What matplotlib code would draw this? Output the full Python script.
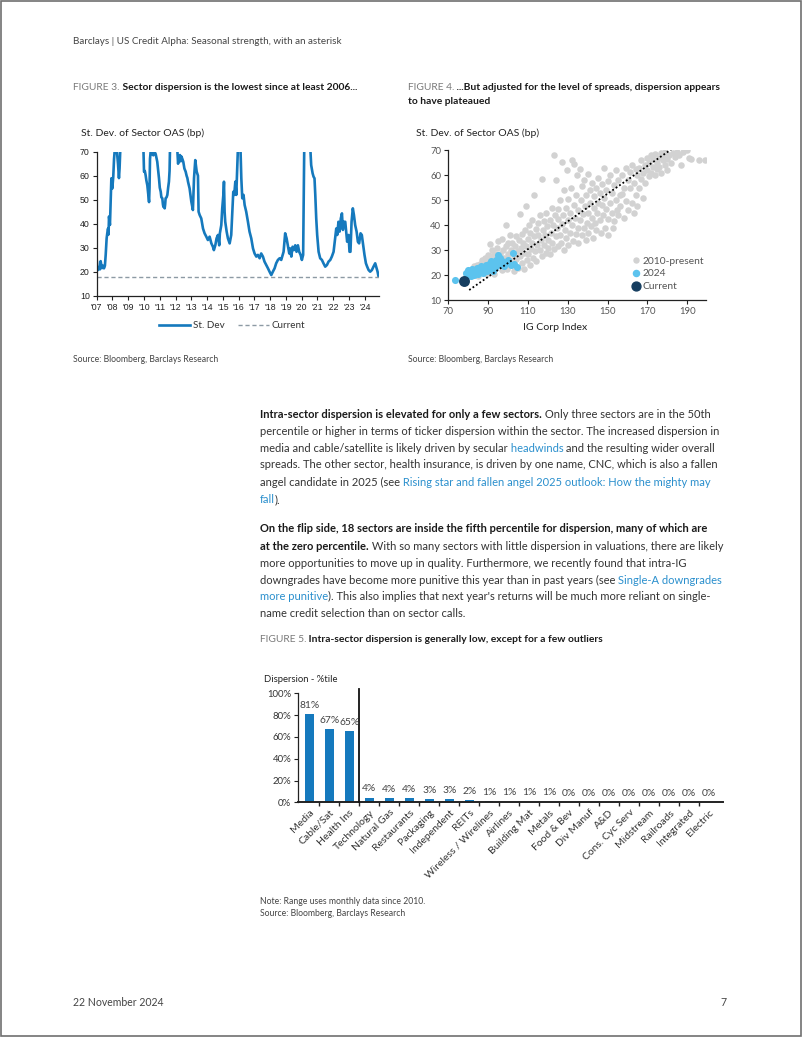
import numpy as np
import matplotlib
matplotlib.use('Agg')
import matplotlib.pyplot as plt
from matplotlib.font_manager import FontProperties
from matplotlib.textpath import TextPath
from matplotlib.lines import Line2D
from matplotlib.patches import Rectangle

W, H = 802, 1037
FONT = 'Lato'
BLUE = '#1579bd'
TXT = '#333333'
DARK = '#1a1a1a'
LINK = '#2a8fcd'
GREY = '#7a7a7a'

# ---- Figure 3: st. dev. of sector OAS (bp) ----
dev_year = [2007.00, 2007.04, 2007.08, 2007.13, 2007.17, 2007.21, 2007.25, 2007.30, 2007.34, 2007.40, 2007.46,
            2007.52, 2007.57, 2007.63, 2007.67, 2007.72, 2007.75, 2007.78, 2007.84, 2007.89, 2007.93, 2007.99,
            2008.05, 2008.10, 2008.16, 2008.22, 2008.27, 2008.31, 2008.35, 2008.41, 2008.45, 2008.48, 2008.52,
            2008.60, 2008.75, 2008.90, 2009.00, 2009.20, 2009.40, 2009.60, 2009.80, 2009.96,
            2010.00, 2010.05, 2010.10, 2010.15, 2010.21, 2010.27, 2010.32, 2010.35, 2010.38, 2010.42, 2010.46,
            2010.52, 2010.59, 2010.65, 2010.70, 2010.74, 2010.79, 2010.84, 2010.90, 2010.95,
            2011.00, 2011.06, 2011.10, 2011.16, 2011.20, 2011.23, 2011.27, 2011.31, 2011.34, 2011.37, 2011.43,
            2011.48, 2011.53, 2011.58, 2011.62, 2011.65, 2011.75, 2011.90,
            2012.00, 2012.11, 2012.16, 2012.22, 2012.28, 2012.33, 2012.37, 2012.43, 2012.49, 2012.56, 2012.64,
            2012.70, 2012.75, 2012.79, 2012.89,
            2013.00, 2013.10, 2013.17, 2013.25, 2013.34, 2013.42, 2013.46, 2013.53, 2013.63, 2013.74, 2013.84, 2013.95,
            2014.05, 2014.16, 2014.27, 2014.37, 2014.43, 2014.52, 2014.60, 2014.69, 2014.77, 2014.81, 2014.90, 2014.96,
            2015.03, 2015.07, 2015.11, 2015.15, 2015.24, 2015.32, 2015.43, 2015.53, 2015.60, 2015.66, 2015.72,
            2015.79, 2015.85, 2015.91, 2015.95,
            2016.00, 2016.07, 2016.12, 2016.17, 2016.23, 2016.31, 2016.38, 2016.48, 2016.59, 2016.69, 2016.80, 2016.91,
            2017.01, 2017.12, 2017.22, 2017.33, 2017.43, 2017.54, 2017.64, 2017.75, 2017.86, 2017.96,
            2018.07, 2018.17, 2018.28, 2018.38, 2018.49, 2018.60, 2018.70, 2018.85, 2018.95,
            2019.04, 2019.12, 2019.21, 2019.27, 2019.34, 2019.42, 2019.50, 2019.59, 2019.67, 2019.76, 2019.84, 2019.93,
            2020.01, 2020.09, 2020.16, 2020.25, 2020.40, 2020.54, 2020.60, 2020.69, 2020.75, 2020.81, 2020.86,
            2020.92, 2020.98,
            2021.07, 2021.17, 2021.28, 2021.38, 2021.49, 2021.60, 2021.70, 2021.81, 2021.91,
            2022.02, 2022.12, 2022.19, 2022.25, 2022.33, 2022.40, 2022.48, 2022.55, 2022.61, 2022.67, 2022.76,
            2022.82, 2022.88, 2022.97,
            2023.03, 2023.09, 2023.16, 2023.24, 2023.31, 2023.39, 2023.48, 2023.56, 2023.64, 2023.73, 2023.81,
            2023.90, 2023.98,
            2024.07, 2024.15, 2024.24, 2024.34, 2024.45, 2024.55, 2024.66, 2024.72, 2024.81, 2024.87]
dev_value = [25.0, 22.5, 20.7, 21.5, 22.0, 21.0, 24.4, 22.5, 21.5, 22.5, 21.4,
             22.5, 27.0, 33.9, 36.0, 38.0, 35.5, 43.0, 39.5, 50.6, 58.9, 54.7,
             59.6, 67.0, 72, 74, 71, 68, 65, 59, 63, 68, 75,
             90, 130, 180, 170, 150, 120, 95, 80, 72,
             61.7, 62, 60.3, 58, 56, 52, 49, 55, 67, 70, 72,
             69, 68.5, 71, 69.5, 69, 67.5, 65.8, 62, 58.9,
             55, 53.3, 51, 50.6, 48, 47, 48.5, 46.4, 48, 50.6, 51,
             52, 55, 57.5, 62, 72, 80, 78,
             74, 71, 65, 67, 68.6, 66, 68, 67, 65.8, 63, 61.7,
             60, 59, 57.5, 54.7,
             49.2, 45.7, 58.9, 66.5, 61.7, 60, 45, 43.6, 42.2, 38, 36, 34.6,
             33.2, 34.6, 31.8, 30.4, 29, 31, 33.9, 35.3, 31, 36, 39.4, 46.4,
             52, 57.5, 45, 40.8, 36.7, 33.9, 31.8, 35.3, 45, 53.3, 52,
             57.5, 52, 63, 70.5,
             78, 76, 70.5, 58.9, 50.6, 52, 47.8, 45, 40.8, 36.7, 33.9, 29.7,
             27.6, 26.3, 27, 25.6, 27.6, 26.3, 24.2, 22.8, 21.4, 20,
             18.6, 20, 21.4, 23.5, 24.9, 25.6, 24.9, 28.3, 36,
             33.9, 31, 27.6, 29.7, 26.3, 30.4, 29, 31, 28.3, 31, 28.3, 27,
             24.9, 27, 72, 150, 100, 72, 64.4, 61, 59.6, 58.9, 52,
             42.2, 35.3,
             28.3, 25.6, 24.9, 23.5, 22.1, 22.8, 24.2, 24.9, 26.3,
             28.3, 33.9, 38, 35.3, 40.8, 36.7, 42.2, 44.3, 37.4, 40.8, 40.8,
             36.7, 32.5, 35.3,
             28.3, 28.3, 40.8, 46.4, 43.6, 39.4, 36.7, 32.5, 31.8, 36, 35.3,
             31, 27,
             23.5, 22.1, 20.7, 20, 20.7, 22.1, 23.5, 22.1, 20, 18]
current_dev = 18
year_ticks = list(range(2007, 2025))

# ---- Figure 4: dispersion vs IG Corp Index ----
hist_x = [79, 80, 81, 82, 82.5, 83, 84, 84.5, 85, 85,
          86, 86.5, 87, 87.5, 88, 88.5, 89, 89.5, 90, 90,
          91, 91.5, 92, 92, 93, 93.5, 94, 94.5, 95, 95, 91, 93,
          96, 96.5, 97, 97, 97.5, 98, 98.5, 99, 99, 99.5, 100, 100,
          101, 101, 101.5, 102, 102, 103, 103, 103.5, 104, 104, 105, 105, 105.5,
          106, 106, 106.5, 107, 107, 107.5, 108, 108, 108.5, 109, 109, 109.5, 110, 110, 110.5,
          111, 111, 111.5, 112, 112, 112.5, 113, 113, 113.5, 114, 114, 114.5, 115, 115,
          116, 116, 116.5, 117, 117, 117.5, 118, 118, 118.5, 119, 119, 119.5, 120, 120,
          121, 121, 121.5, 122, 122, 122.5, 123, 123, 123.5, 124, 124, 124.5, 125, 125, 125,
          126, 126, 126.5, 127, 127, 127.5, 128, 128, 128.5, 129, 129, 129.5, 130, 130, 130,
          131, 131, 131.5, 132, 132, 132.5, 133, 133, 133.5, 134, 134, 134.5, 135, 135, 135,
          136, 136, 136.5, 137, 137, 137.5, 138, 138, 138.5, 139, 139, 139.5, 140, 140, 140,
          141, 141, 141.5, 142, 142, 142.5, 143, 143, 143.5, 144, 144, 144.5, 145, 145,
          146, 146, 146.5, 147, 147, 147.5, 148, 148, 148.5, 149, 149, 150, 150, 150,
          151, 151, 152, 152, 152.5, 153, 153, 154, 154, 154.5, 155, 155,
          156, 156, 157, 157, 158, 158, 159, 159, 160, 160,
          161, 161, 162, 162, 163, 163, 164, 164, 165, 165,
          166, 166, 167, 167, 168, 168, 169, 169, 170, 170,
          171, 171, 172, 172, 173, 173, 174, 174, 175, 175,
          176, 176, 177, 177, 178, 178, 179, 179, 180, 180,
          181, 182, 183, 184, 185, 186, 187, 188, 190, 191, 192, 196, 199]
hist_y = [20.5, 21.5, 19.8, 22.5, 20.5, 23.5, 21, 24, 22.5, 19.5,
          24.5, 21.5, 26, 23, 22, 27, 24.5, 20.5, 25.5, 28,
          23, 27.5, 30, 21.5, 25, 28.5, 23.5, 31, 26.5, 33.5, 32.5, 20.5,
          28.5, 24.5, 34.5, 22, 30, 27, 25, 40, 31.5, 22.5, 28.5, 33,
          26, 36, 30, 24, 33, 28, 21.5, 31.5, 35.5, 26.5, 29.5, 23, 34,
          44.5, 27.5, 31, 25, 36.5, 33, 29, 22.5, 38, 47.5, 31.5, 26, 34.5, 28.5, 40,
          24, 37, 30.5, 33, 42, 27, 52, 35.5, 29.5, 38.5, 25.5, 32, 41, 36,
          30, 44, 34, 58.5, 27.5, 38, 32, 41.5, 36, 29, 45, 39.5, 34, 31,
          42, 28.5, 37, 47, 33, 40, 30.5, 68, 44, 35.5, 58, 39, 31.5, 46.5, 42.5,
          36, 50, 33, 65.5, 40.5, 44, 30, 54, 38, 47, 35, 62, 42, 32, 50.5,
          37, 45, 55, 66, 40, 33.5, 48, 64.5, 43, 36.5, 52, 60, 39, 46, 33,
          62.5, 42, 50, 36, 55.5, 44.5, 39, 58, 47.5, 34, 52, 41, 60.5, 45, 37,
          49, 54, 39.5, 43, 57, 35, 47, 51.5, 41, 55, 38, 45, 59, 49,
          42, 53, 37, 48, 56.5, 44, 63, 51, 39, 46.5, 54, 42.5, 57.5, 36,
          49, 60, 45, 53, 39, 56, 41.5, 50, 62, 46, 44, 58,
          52, 47.5, 52.5, 60, 55, 43, 49.5, 63, 58, 46,
          55, 61.5, 49, 64, 57, 45, 52, 62.5, 60, 47.5,
          63, 55, 58.5, 66, 61, 51, 64, 57, 62, 67,
          59.5, 65, 68, 61, 63.5, 66.5, 60, 68.5, 65, 62.5,
          67, 63.5, 69, 61, 66, 68, 64, 69.5, 66.5, 62,
          68, 65, 69, 67.5, 69.5, 68, 64, 69.5, 70, 67, 66.5, 66, 66]
y24_x = [73.5, 79, 79.5, 80, 80.5, 81, 81.5, 82, 82.5, 83, 83.5, 84, 84.5, 85, 85.5, 86, 86.5, 87, 87.5,
         88, 88.5, 89, 89.5, 90, 90.5, 91, 91.5, 92, 92.5, 93, 93.5, 94, 94.5, 95, 95.5, 96, 96.5, 97,
         98, 99, 100, 101.5, 102.6, 104.3, 103]
y24_y = [18.0, 21, 20, 22, 20.8, 21.5, 19.8, 22.5, 21, 20.2, 22, 21.2, 23, 20.5, 22.2, 21.4, 23.5, 22, 20.8,
         23, 22, 24, 21.8, 23.2, 24.6, 22.5, 25.8, 23.6, 21.5, 24.8, 23, 26, 24, 28, 25, 26.8, 24.2, 25.5,
         23.5, 25, 26, 24, 28.7, 23.4, 24.5]
now_x = [78]
now_y = [17.8]
trend_x = [80.5, 182]
trend_y = [14, 70.4]

# ---- Figure 5: intra-sector dispersion percentile ----
sectors = ['Media', 'Cable/Sat', 'Health Ins', 'Technology', 'Natural Gas', 'Restaurants', 'Packaging',
           'Independent', 'REITs', 'Wireless / Wirelines', 'Airlines', 'Building Mat', 'Metals', 'Food & Bev',
           'Div Manuf', 'A&D', 'Cons. Cyc Serv', 'Midstream', 'Railroads', 'Integrated', 'Electric']
pctile = [81, 67, 65, 4.4, 4.1, 3.8, 3.3, 3.3, 1.8, 1.2, 0.7, 0.6, 0.6, 0.2, 0, 0, 0, 0, 0, 0, 0]
n_high = 3


def fit(s, px, weight='normal', family=FONT):
    """font size (pt) that makes string s about px pixels wide"""
    tp = TextPath((0, 0), s, size=10, prop=FontProperties(family=family, weight=weight))
    return 10 * px / (tp.get_extents().width * 100 / 72)


def px_axes(l, t, r, b):
    return fig.add_axes([l / W, 1 - b / H, (r - l) / W, (b - t) / H])


def text_line(x, y, pieces, size):
    """pieces: (text, weight, colour), drawn one after the other"""
    s, w, c = pieces[0]
    t = bg.text(x, y, s, fontsize=size, fontweight=w, color=c, family=FONT, va='center', ha='left')
    for s, w, c in pieces[1:]:
        t = bg.annotate(s, xy=(1, 0), xycoords=t, va='bottom', ha='left',
                        fontsize=size, fontweight=w, color=c, family=FONT)
    return t


fig = plt.figure(figsize=(W / 100, H / 100), dpi=100)
bg = fig.add_axes([0, 0, 1, 1], zorder=-1)
bg.set_xlim(0, W)
bg.set_ylim(H, 0)
bg.axis('off')
bg.add_patch(Rectangle((0.5, 0.5), W - 1.5, H - 1.5, fill=False, ec='#707070', lw=1.2))

# page header / footer
hs = fit('Barclays | US Credit Alpha: Seasonal strength, with an asterisk', 268)
bg.text(73, 41, 'Barclays | US Credit Alpha: Seasonal strength, with an asterisk',
        fontsize=hs, color='#444444', family=FONT, va='center')
fs = fit('22 November 2024', 90)
bg.text(73, 1002, '22 November 2024', fontsize=fs, color='#444444', family=FONT, va='center')
bg.text(727, 1002, '7', fontsize=fs, color='#444444', family=FONT, va='center', ha='right')

# figure titles and sources
ts = fit('FIGURE 5. Intra-sector dispersion is generally low, except for a few outliers', 341, 'bold')
text_line(73, 88, [('FIGURE 3.', 'normal', GREY),
                   (' Sector dispersion is the lowest since at least 2006...', 'bold', DARK)], ts)
text_line(408, 87, [('FIGURE 4.', 'normal', GREY),
                    (' ...But adjusted for the level of spreads, dispersion appears', 'bold', DARK)], ts)
text_line(408, 101, [('to have plateaued', 'bold', DARK)], ts)
text_line(260, 640, [('FIGURE 5.', 'normal', GREY),
                     (' Intra-sector dispersion is generally low, except for a few outliers', 'bold', DARK)], ts)

ss = fit('Source: Bloomberg, Barclays Research', 145)
for x, y in [(73, 360), (408, 360), (260, 913)]:
    bg.text(x, y, 'Source: Bloomberg, Barclays Research', fontsize=ss, color='#444444', family=FONT, va='center')
bg.text(260, 901, 'Note: Range uses monthly data since 2010.', fontsize=ss, color='#444444',
        family=FONT, va='center')

# body text
bs = fit('percentile or higher in terms of ticker dispersion within the sector. The increased dispersion in', 456)
N = 'normal'
para = [
    (415, [('Intra-sector dispersion is elevated for only a few sectors.', 'bold', DARK),
           (' Only three sectors are in the 50th', N, TXT)]),
    (431.7, [('percentile or higher in terms of ticker dispersion within the sector. The increased dispersion in', N, TXT)]),
    (448.3, [('media and cable/satellite is likely driven by secular', N, TXT), (' headwinds', N, LINK),
             (' and the resulting wider overall', N, TXT)]),
    (465, [('spreads. The other sector, health insurance, is driven by one name, CNC, which is also a fallen', N, TXT)]),
    (482.3, [('angel candidate in 2025 (see', N, TXT),
             (' Rising star and fallen angel 2025 outlook: How the mighty may', N, LINK)]),
    (499.3, [('fall', N, LINK), (').', N, TXT)]),
    (529, [('On the flip side, 18 sectors are inside the fifth percentile for dispersion, many of which are', 'bold', DARK)]),
    (546, [('at the zero percentile.', 'bold', DARK),
           (' With so many sectors with little dispersion in valuations, there are likely', N, TXT)]),
    (563.3, [('more opportunities to move up in quality. Furthermore, we recently found that intra-IG', N, TXT)]),
    (580, [('downgrades have become more punitive this year than in past years (see', N, TXT),
           (' Single-A downgrades', N, LINK)]),
    (596.7, [('more punitive', N, LINK),
             ("). This also implies that next year's returns will be much more reliant on single-", N, TXT)]),
    (613.3, [('name credit selection than on sector calls.', N, TXT)]),
]
for y, pieces in para:
    text_line(260, y, pieces, bs)

# ---------- Figure 3 ----------
ax1 = px_axes(96.7, 151.7, 379, 295.7)
ax1.plot(dev_year, dev_value, color=BLUE, lw=1.9, label='St. Dev')
ax1.axhline(current_dev, color='#8d9aa4', lw=1.0, ls=(0, (3, 2)), label='Current')
ax1.set_xlim(2007, 2024.9)
ax1.set_ylim(10, 70)
ax1.set_xticks(year_ticks)
ax1.set_xticklabels(["'" + str(y)[2:] for y in year_ticks])
ax1.set_yticks(range(10, 71, 10))
for s in ['top', 'right']:
    ax1.spines[s].set_visible(False)
for s in ['left', 'bottom']:
    ax1.spines[s].set_color('#222222')
    ax1.spines[s].set_linewidth(0.9)
ax1.tick_params(length=3, width=0.8, colors='#222222', labelsize=6.3, pad=2)
for lab in ax1.get_xticklabels() + ax1.get_yticklabels():
    lab.set_family('Liberation Sans')
lg_size = fit('St. Dev', 31)
ax1.legend(loc='center', bbox_to_anchor=(0.48, -0.21), ncol=2, frameon=False,
           handlelength=3.1, handletextpad=0.3, columnspacing=1.4, labelcolor='#333333',
           prop={'family': FONT, 'size': lg_size})
ls = fit('St. Dev. of Sector OAS (bp)', 123)
bg.text(81, 133, 'St. Dev. of Sector OAS (bp)', fontsize=ls, color='#222222', family=FONT, va='center')

# ---------- Figure 4 ----------
ax2 = px_axes(448.3, 150.3, 706, 300)
ax2.scatter(hist_x, hist_y, s=22, color='#d2d2d2', lw=0, zorder=2)
ax2.scatter(y24_x, y24_y, s=26, color='#5cc3ee', lw=0, zorder=3)
ax2.scatter(now_x, now_y, s=62, color='#163e60', lw=0, zorder=4)
ax2.plot(trend_x, trend_y, color='black', lw=1.3, ls=(0, (1, 1.3)), zorder=5)
ax2.set_xlim(70, 199.4)
ax2.set_ylim(10, 70)
ax2.set_xticks(range(70, 191, 20))
ax2.set_yticks(range(10, 71, 10))
for s in ['top', 'right']:
    ax2.spines[s].set_visible(False)
for s in ['left', 'bottom']:
    ax2.spines[s].set_color('#222222')
    ax2.spines[s].set_linewidth(0.9)
ax2.tick_params(length=3, width=0.8, color='#222222', labelcolor='#555555', labelsize=6.8, pad=2)
for lab in ax2.get_xticklabels() + ax2.get_yticklabels():
    lab.set_family(FONT)
bg.text(416, 133, 'St. Dev. of Sector OAS (bp)', fontsize=ls, color='#222222', family=FONT, va='center')
bg.text(555, 328, 'IG Corp Index', fontsize=fit('IG Corp Index', 63), color='#222222', family=FONT,
        va='center', ha='center')
handles = [Line2D([], [], ls='', marker='o', ms=3.6, color='#d2d2d2'),
           Line2D([], [], ls='', marker='o', ms=4.4, color='#5cc3ee'),
           Line2D([], [], ls='', marker='o', ms=6.4, color='#163e60')]
ax2.legend(handles, ['2010-present', '2024', 'Current'], loc='upper left', bbox_to_anchor=(0.71, 0.29),
           frameon=False, borderpad=0, borderaxespad=0, handlelength=1.0, handletextpad=0.1,
           labelspacing=0.35, labelcolor='#555555',
           prop={'family': FONT, 'size': fit('2010-present', 61)})

# ---------- Figure 5 ----------
ax3 = px_axes(298.3, 693.3, 723.3, 802.3)
xpos = np.arange(len(sectors))
vals = np.array(pctile) / 100
ax3.bar(xpos, vals, width=0.42, color=BLUE, zorder=2)
ax3.plot([n_high - 0.5, n_high - 0.5], [0, 1.04], color='#111111', lw=1.3, clip_on=False, zorder=3)
for i, v in enumerate(pctile):
    ax3.annotate('%d%%' % round(v), (xpos[i], vals[i]), xytext=(0, 3), textcoords='offset points',
                 ha='center', va='bottom', fontsize=7.4, color='#444444', family=FONT)
ax3.set_xlim(-0.55, len(sectors) - 0.3)
ax3.set_ylim(0, 1)
ax3.set_yticks(np.arange(0, 1.01, 0.2))
ax3.set_yticklabels(['%d%%' % (t * 100) for t in np.arange(0, 1.01, 0.2)])
ax3.set_xticks(xpos)
ax3.set_xticklabels(sectors, rotation=45, ha='right', rotation_mode='anchor')
ax3.set_xticks(xpos[:-1] + 0.5, minor=True)
ax3.tick_params(axis='x', which='major', length=0, pad=4)
ax3.tick_params(axis='x', which='minor', length=3, width=1, color='#222222')
ax3.tick_params(axis='y', length=3, width=0.8, color='#222222', pad=2)
for lab in ax3.get_xticklabels():
    lab.set_family(FONT)
    lab.set_fontsize(7.5)
    lab.set_color('#333333')
for lab in ax3.get_yticklabels():
    lab.set_family(FONT)
    lab.set_fontsize(6.9)
    lab.set_color('#333333')
for s in ['top', 'right']:
    ax3.spines[s].set_visible(False)
ax3.spines['left'].set_color('#222222')
ax3.spines['left'].set_linewidth(0.9)
ax3.spines['bottom'].set_color('#222222')
ax3.spines['bottom'].set_linewidth(1.4)
bg.text(264, 679, 'Dispersion - %tile', fontsize=fit('Dispersion - %tile', 72), color='#222222',
        family=FONT, va='center')

fig.savefig('out.png', dpi=100)
